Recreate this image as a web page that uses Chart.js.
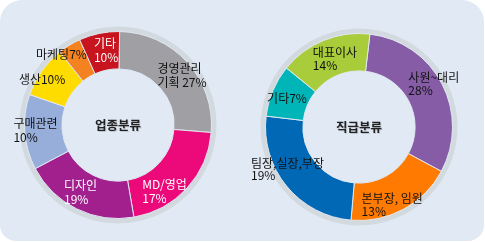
<!DOCTYPE html>
<html><head><meta charset="utf-8">
<script src="https://cdn.jsdelivr.net/npm/chart.js@4"></script>
<style>
html,body{margin:0;padding:0;background:#fff;}
#panel{position:absolute;left:0;top:0;width:484px;height:241px;background:#e1e9f5;border-radius:22px 22px 16px 16px;}
canvas{position:absolute;top:0;}
#c1{left:0px;}
#c2{left:242px;}
</style></head>
<body>
<div id="panel"></div>
<canvas id="c1" width="242" height="242"></canvas>
<canvas id="c2" width="243" height="242"></canvas>
<script>
// Chart 1: 업종분류
const categories1 = ['경영관리', 'MD/영업', '디자인', '구매관련', '생산', '마케팅', '기타'];
const values1 = [26, 21, 20, 13, 9, 4, 7];
const labels1 = [['경영관리', '기획 27%'], ['MD/영업', '17%'], ['디자인', '19%'], ['구매관련', '10%'], ['생산10%'], ['마케팅7%'], ['기타', '10%']];
const title1 = '업종분류';
// Chart 2: 직급분류
const categories2 = ['사원~대리', '본부장, 임원', '팀장,실장,부장', '기타', '대표이사'];
const values2 = [31, 18.5, 25.5, 9, 16];
const labels2 = [['사원~대리', '28%'], ['본부장, 임원', '13%'], ['팀장,실장,부장', '19%'], ['기타7%'], ['대표이사', '14%']];
const title2 = '직급분류';

// styling
const colors1 = ['#a0a0a4', '#ec0a7a', '#a2208e', '#97aedb', '#ffdc00', '#f58220', '#c8141e'];
const textColors1 = ['#111', '#fff', '#fff', '#111', '#111', '#111', '#fff'];
const offsets1 = [[-16, -6], [-31, 9], [-21, -7], [-30, -7], [-38, -2], [-43, -7], [-9, -8]];
const colors2 = ['#875ca6', '#ff7a00', '#0068b4', '#00b5b8', '#a8cc3a'];
const textColors2 = ['#111', '#111', '#111', '#111', '#111'];
const offsets2 = [[-17, -15], [-33, 6], [-50, -11], [-23, 1], [-18, -5]];

const ringPlugin = {
  id: 'ring',
  beforeDatasetsDraw(chart) {
    const a = chart.getDatasetMeta(0).data[0];
    const ctx = chart.ctx;
    ctx.save();
    ctx.beginPath();
    ctx.arc(a.x, a.y, a.outerRadius + 2.5, 0, Math.PI * 2);
    ctx.lineWidth = 5;
    ctx.strokeStyle = '#d2dadf';
    ctx.stroke();
    ctx.restore();
  }
};

function makeLabelPlugin(labels, textColors, offsets, lineH, title) {
  return {
    id: 'lbl',
    afterDatasetsDraw(chart) {
      const ctx = chart.ctx;
      const meta = chart.getDatasetMeta(0);
      ctx.save();
      ctx.font = '12px "Noto Sans CJK KR", "Noto Sans", sans-serif';
      ctx.textAlign = 'left';
      ctx.textBaseline = 'middle';
      meta.data.forEach((arc, i) => {
        const p = arc.tooltipPosition();
        ctx.fillStyle = textColors[i];
        labels[i].forEach((line, j) => {
          ctx.fillText(line, p.x + offsets[i][0], p.y + offsets[i][1] + j * lineH);
        });
      });
      const a = meta.data[0];
      ctx.font = 'bold 12.5px "Noto Sans CJK KR", sans-serif';
      ctx.textAlign = 'center';
      ctx.fillStyle = 'rgba(0,0,0,0.15)';
      ctx.fillText(title, a.x + 1, a.y + 1);
      ctx.fillStyle = '#222';
      ctx.fillText(title, a.x, a.y);
      ctx.restore();
    }
  };
}

function makeChart(id, cats, vals, cols, rot, pad, plugin) {
  new Chart(document.getElementById(id), {
    type: 'doughnut',
    data: { labels: cats, datasets: [{ data: vals, backgroundColor: cols, borderColor: '#dfe7f0', borderWidth: 1 }] },
    options: {
      responsive: false, animation: false, rotation: rot, cutout: '60%',
      layout: { padding: pad },
      plugins: { legend: { display: false }, tooltip: { enabled: false } }
    },
    plugins: [ringPlugin, plugin]
  });
}

makeChart('c1', categories1, values1, colors1, 1, { left: 24, right: 30, top: 31, bottom: 23 },
  makeLabelPlugin(labels1, textColors1, offsets1, 14, title1));
makeChart('c2', categories2, values2, colors2, 6.7, { left: 23, right: 32, top: 33, bottom: 21 },
  makeLabelPlugin(labels2, textColors2, offsets2, 12.5, title2));
</script>
</body></html>
